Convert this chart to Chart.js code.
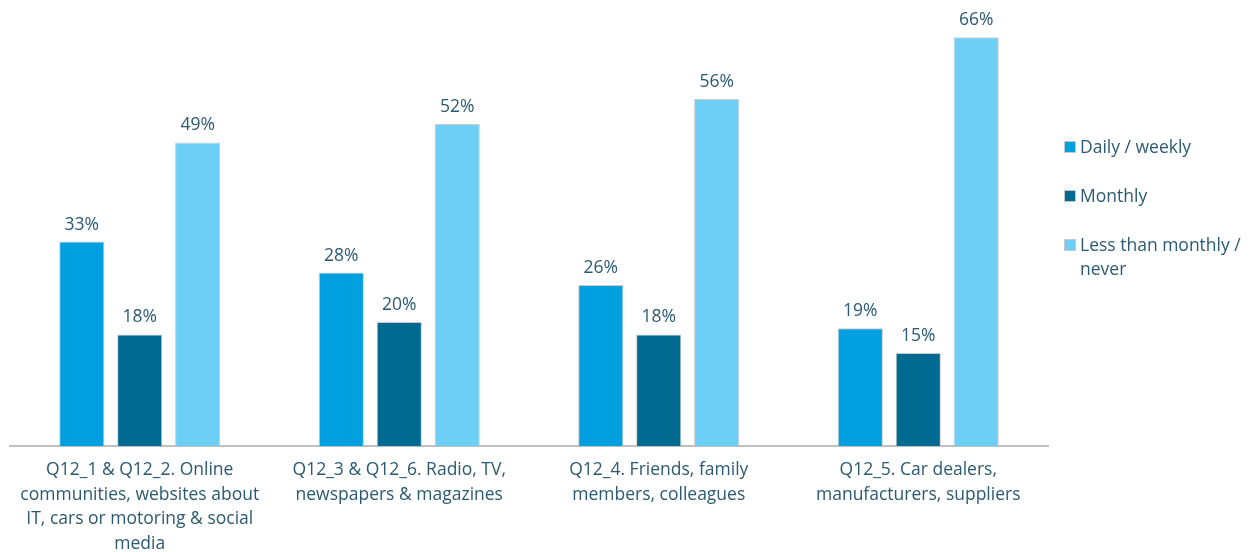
<!DOCTYPE html>
<html>
<head>
<meta charset="utf-8">
<script src="https://cdn.jsdelivr.net/npm/chart.js@4.4.1/dist/chart.umd.min.js"></script>
<style>
  html, body { margin: 0; padding: 0; background: #fff; }
  #wrap { position: relative; width: 1259px; height: 552px; }
  #legend { position: absolute; left: 1064px; top: 134px; font-family: "Open Sans", sans-serif; font-size: 17.5px; color: #2b5a72; }
  .item { display: flex; align-items: flex-start; margin-bottom: 25px; line-height: 24px; }
  .box { width: 10px; height: 10px; border: 1px solid #c8c8c8; margin: 7px 4px 0 0; flex: none; }
</style>
</head>
<body>
<div id="wrap">
  <canvas id="chart" width="1259" height="552"></canvas>
  <div id="legend"></div>
</div>
<script>
// Chart data
const categories = [
    ['Q12_1 & Q12_2. Online', 'communities, websites about', 'IT, cars or motoring & social', 'media'],
    ['Q12_3 & Q12_6. Radio, TV,', 'newspapers & magazines'],
    ['Q12_4. Friends, family', 'members, colleagues'],
    ['Q12_5. Car dealers,', 'manufacturers, suppliers']
];
const seriesNames = ['Daily / weekly', 'Monthly', 'Less than monthly / never'];
const dailyWeekly = [33, 28, 26, 19];
const monthly = [18, 20, 18, 15];
const lessThanMonthly = [49, 52, 56, 66];
const seriesColors = ['#009fdf', '#006a91', '#6dcff6'];

const textColor = '#2b5a72';
const fontFamily = '"Open Sans", sans-serif';

/**
 * Draw the percentage above each bar
 */
const valueLabels = {
    id: 'valueLabels',
    afterDatasetsDraw(chart) {
        const ctx = chart.ctx;
        ctx.save();
        ctx.font = '17.5px ' + fontFamily;
        ctx.fillStyle = textColor;
        ctx.textAlign = 'center';
        ctx.textBaseline = 'middle';
        chart.data.datasets.forEach(function(ds, i) {
            chart.getDatasetMeta(i).data.forEach(function(bar, j) {
                ctx.fillText(ds.data[j] + '%', bar.x, bar.y - 17);
            });
        });
        ctx.restore();
    }
};

const datasets = [dailyWeekly, monthly, lessThanMonthly].map(function(values, i) {
    return {
        label: seriesNames[i],
        data: values,
        backgroundColor: seriesColors[i],
        borderColor: '#cccccc',
        borderWidth: 1,
        categoryPercentage: 0.67,
        barPercentage: 0.78
    };
});

const chart = new Chart(document.getElementById('chart'), {
    type: 'bar',
    data: { labels: categories, datasets: datasets },
    options: {
        responsive: false,
        animation: false,
        layout: { padding: { left: 10, right: 211, top: 0, bottom: 0 } },
        plugins: {
            legend: { display: false },
            tooltip: { enabled: false }
        },
        scales: {
            x: {
                grid: { display: false, drawTicks: false },
                border: { color: '#bfbfbf', width: 2 },
                ticks: {
                    color: textColor,
                    padding: 12,
                    maxRotation: 0,
                    autoSkip: false,
                    font: { family: fontFamily, size: 17.5, lineHeight: 1.4 }
                },
                afterFit: function(scale) { scale.height = 106; }
            },
            y: {
                display: false,
                min: 0,
                max: 72
            }
        }
    },
    plugins: [valueLabels]
});

// Simple HTML legend to the right
const legendEl = document.getElementById('legend');
const legendText = ['Daily / weekly', 'Monthly', 'Less than monthly /<br>never'];
seriesNames.forEach(function(name, i) {
    const item = document.createElement('div');
    item.className = 'item';
    item.innerHTML = '<span class="box" style="background:' + seriesColors[i] + '"></span><span>' + legendText[i] + '</span>';
    legendEl.appendChild(item);
});
</script>
</body>
</html>
